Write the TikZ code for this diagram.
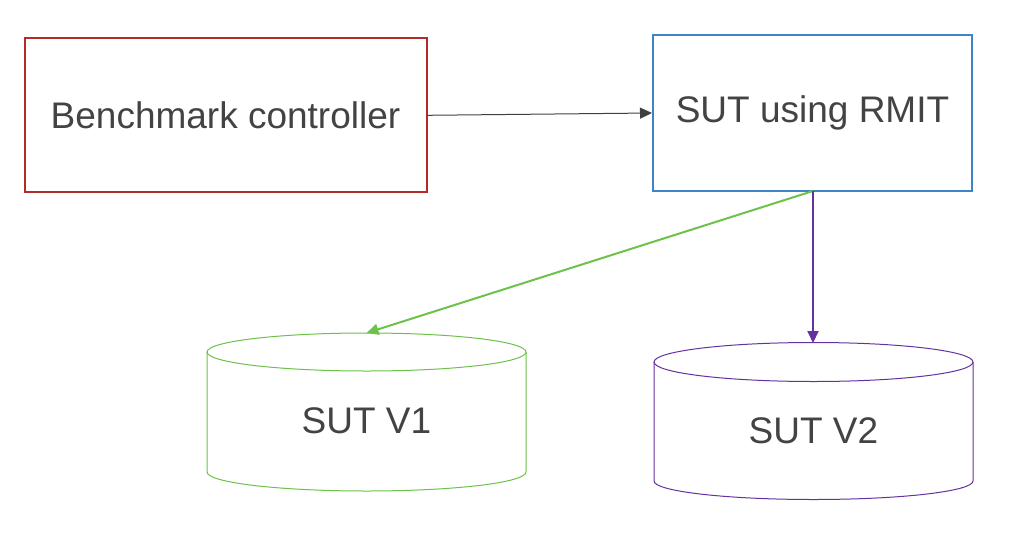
\documentclass[tikz,border=0pt]{standalone}
\usepackage{fontspec}
\setmainfont{Liberation Sans}
\usetikzlibrary{arrows.meta}
\definecolor{txtgray}{HTML}{434343}
\definecolor{boxred}{HTML}{B22A2A}
\definecolor{boxblue}{HTML}{3D85C6}
\definecolor{lgreen}{HTML}{6CC24A}
\definecolor{dpurple}{HTML}{6432A0}
\definecolor{arrgray}{HTML}{404040}
\tikzset{
  lbl/.style={text=txtgray, font=\fontsize{37}{44}\selectfont, inner sep=0pt},
  procbox/.style={draw, line width=2pt, fill=white, lbl},
  tip/.style={-{Triangle[length=12pt,width=11pt]}},
}
\begin{document}
\begin{tikzpicture}[x=1pt,y=-1pt]
\useasboundingbox (0,0) rectangle (1026,552);

% boxes
\node[procbox, draw=boxred, minimum width=402pt, minimum height=154pt] (bc) at (225.5,115.3) {Benchmark controller};
\node[procbox, draw=boxblue, minimum width=319pt, minimum height=156pt] (sut) at (812.5,113) {SUT using RMIT};

% cylinder V1
\draw[lgreen, line width=1pt, fill=white]
  (207,352) -- (207,472) arc[start angle=180, end angle=360, x radius=159.5pt, y radius=19pt] -- (526,352);
\draw[lgreen, line width=1pt] (366.5,352) ellipse [x radius=159.5pt, y radius=19pt];
\coordinate (v1top) at (366.5,333);
\node[lbl, anchor=base] (v1) at (366.5,433) {SUT V1};

% cylinder V2
\draw[dpurple, line width=1pt, fill=white]
  (654,362) -- (654,481) arc[start angle=180, end angle=360, x radius=159.5pt, y radius=18.5pt] -- (973,362);
\draw[dpurple, line width=1pt] (813.5,362) ellipse [x radius=159.5pt, y radius=19.5pt];
\coordinate (v2top) at (813,343);
\node[lbl, anchor=base] (v2) at (813.5,443.3) {SUT V2};

% connectors
\coordinate (sutbot) at (813,191);
\draw[arrgray, line width=1pt, tip] (bc.east) -- (sut.west);
\draw[lgreen, line width=2pt, tip] (sutbot) -- (v1top);
\draw[dpurple, line width=2pt, tip] (sutbot) -- (v2top);
\end{tikzpicture}
\end{document}
